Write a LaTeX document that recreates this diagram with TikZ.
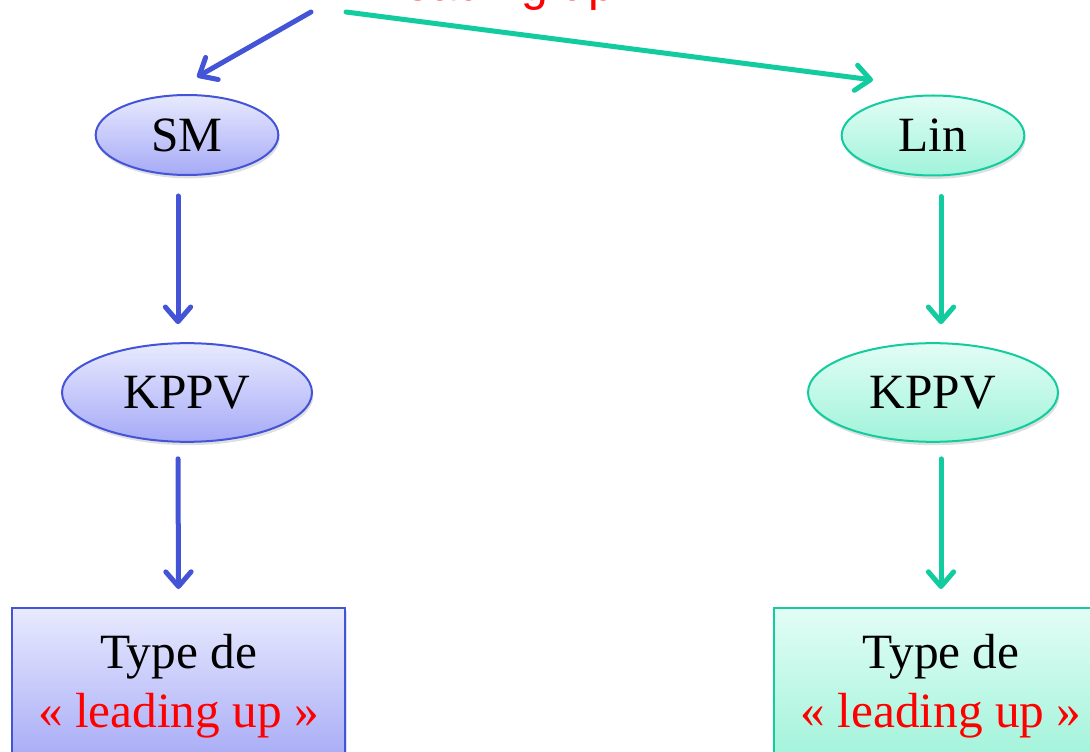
\documentclass[tikz,border=0pt]{standalone}
\usepackage{fontspec}
\setmainfont{Liberation Serif}
\newfontfamily\titlefont{Liberation Sans}
\usetikzlibrary{arrows.meta,shapes.geometric,shadows,calc}

\definecolor{blueline}{RGB}{68,84,214}
\definecolor{tealline}{RGB}{18,204,160}
\definecolor{bluetop}{RGB}{232,234,254}
\definecolor{bluebot}{RGB}{166,170,246}
\definecolor{tealtop}{RGB}{226,253,245}
\definecolor{tealbot}{RGB}{160,243,218}

\tikzset{every picture/.style={line width=0.75pt}}
\tikzset{
  bigtext/.style={font=\fontsize{37}{44}\selectfont},
  blueoval/.style={ellipse, draw=blueline, line width=1.5pt, top color=bluetop, bottom color=bluebot, inner sep=0pt, bigtext, drop shadow={opacity=0.25, shadow xshift=1pt, shadow yshift=-2.5pt}},
  tealoval/.style={ellipse, draw=tealline, line width=1.5pt, top color=tealtop, bottom color=tealbot, inner sep=0pt, bigtext, drop shadow={opacity=0.25, shadow xshift=1pt, shadow yshift=-2.5pt}},
  bluebox/.style={rectangle, draw=blueline, line width=1.5pt, top color=bluetop, bottom color=bluebot, align=center, bigtext, minimum width=250pt, minimum height=117pt, drop shadow={opacity=0.25, shadow xshift=1pt, shadow yshift=-2.5pt}},
  tealbox/.style={rectangle, draw=tealline, line width=1.5pt, top color=tealtop, bottom color=tealbot, align=center, bigtext, minimum width=250pt, minimum height=117pt, drop shadow={opacity=0.25, shadow xshift=1pt, shadow yshift=-2.5pt}},
  bluearrow/.style={draw=blueline, line width=3.75pt, line cap=round, -{Straight Barb[round,length=11pt,width=19pt]}},
  tealarrow/.style={draw=tealline, line width=3.75pt, line cap=round, -{Straight Barb[round,length=11pt,width=19pt]}}
}

\begin{document}
\begin{tikzpicture}[x=0.75pt,y=0.75pt,yscale=-1,xscale=1]
\useasboundingbox (0,0) rectangle (1090,752);

%Title (cut at the top)
\node[anchor=base west, inner sep=0pt, font=\titlefont\fontsize{36}{40}\selectfont] (titleA) at (205,1) {« …};
\node[anchor=base west, inner sep=0pt, font=\titlefont\fontsize{36}{40}\selectfont, text=red] (titleB) at (393,1) {leading up};

%Left column
\node[blueoval, minimum width=137pt, minimum height=60pt] (sm) at (187,135) {SM};
\node[blueoval, minimum width=187.5pt, minimum height=74pt] (kppvA) at (187,392.5) {KPPV};
\node[bluebox] (typeA) at (178.5,686) {Type de\\\textcolor{red}{« leading up »}};

%Right column
\node[tealoval, minimum width=137pt, minimum height=60pt] (lin) at (933,135.5) {Lin};
\node[tealoval, minimum width=187.5pt, minimum height=74pt] (kppvB) at (933,392.5) {KPPV};
\node[tealbox] (typeB) at (941,686) {Type de\\\textcolor{red}{« leading up »}};

%Arrows from the title
\coordinate (startA) at (311,12);
\coordinate (endA) at (197,77);
\coordinate (startB) at (346,12);
\coordinate (endB) at (873,80);
\draw[bluearrow] (startA) -- (endA);
\draw[tealarrow] (startB) -- (endB);

%Straight Lines
\draw[bluearrow] ($(sm.south)+(-9,20)$) -- ($(kppvA.north)+(-9,-18)$);
\draw[bluearrow] ($(kppvA.south)+(-9,16)$) -- ($(typeA.north)+(0,-18)$);
\draw[tealarrow] ($(lin.south)+(8,20)$) -- ($(kppvB.north)+(8,-18)$);
\draw[tealarrow] ($(kppvB.south)+(8,16)$) -- ($(typeB.north)+(0,-18)$);

\end{tikzpicture}
\end{document}
